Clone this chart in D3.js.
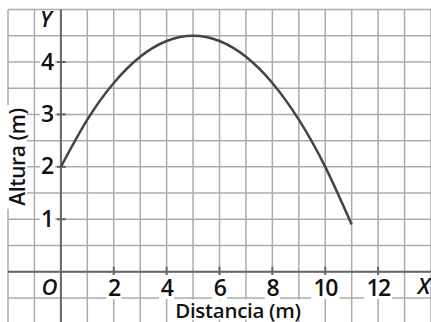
<!DOCTYPE html>
<html>
<head>
<meta charset="utf-8">
<script src="https://cdn.jsdelivr.net/npm/d3@7"></script>
<style>
  html, body { margin: 0; padding: 0; background: #fff; }
  svg { display: block; }
  text { font-family: "Open Sans", "Noto Sans", sans-serif; fill: #111; font-weight: 600; }
</style>
</head>
<body>
<svg id="chart" width="431" height="322"></svg>
<script>
// Trajectory samples: horizontal distance (m) and height (m)
const distances = [0, 1, 2, 3, 4, 5, 6, 7, 8, 9, 10, 11];
const heights   = [2.0, 2.9, 3.6, 4.1, 4.4, 4.5, 4.4, 4.1, 3.6, 2.9, 2.0, 0.9];

const xTicks = [2, 4, 6, 8, 10, 12];
const yTicks = [1, 2, 3, 4];
const xLabel = "Distancia (m)";
const yLabel = "Altura (m)";

const W = 431, H = 322;
const svg = d3.select("#chart");

const x = d3.scaleLinear().domain([-2, 14]).range([8, 431]);
const y = d3.scaleLinear().domain([0, 4]).range([271.7, 62]);

// square grid: every 1 m horizontally, every 0.5 m vertically
const gx = d3.range(-2, 14.01, 1);
const gy = d3.range(-1, 5.01, 0.5);
const grid = svg.append("g").attr("stroke", "#ababab").attr("stroke-width", 1.5);
grid.selectAll("line.v").data(gx).join("line")
  .attr("x1", d => x(d)).attr("x2", d => x(d))
  .attr("y1", y(5)).attr("y2", H);
grid.selectAll("line.h").data(gy).join("line")
  .attr("x1", x(-2)).attr("x2", W)
  .attr("y1", d => y(d)).attr("y2", d => y(d));

// axes through the origin
const axisColor = "#666";
svg.append("line").attr("x1", x(-2)).attr("x2", W)
  .attr("y1", y(0)).attr("y2", y(0))
  .attr("stroke", axisColor).attr("stroke-width", 2);
svg.append("line").attr("x1", x(0)).attr("x2", x(0))
  .attr("y1", y(5)).attr("y2", H)
  .attr("stroke", axisColor).attr("stroke-width", 2);

// tick marks
svg.append("g").selectAll("line").data(xTicks).join("line")
  .attr("x1", d => x(d)).attr("x2", d => x(d))
  .attr("y1", y(0) - 5).attr("y2", y(0) + 5)
  .attr("stroke", axisColor).attr("stroke-width", 2);
svg.append("g").selectAll("line").data(yTicks).join("line")
  .attr("x1", x(0) - 4).attr("x2", x(0) + 5)
  .attr("y1", d => y(d)).attr("y2", d => y(d))
  .attr("stroke", axisColor).attr("stroke-width", 2);

// text with a snug white backing
function label(g, str, px, py, opts = {}) {
  const grp = g.append("g");
  const rect = grp.append("rect").attr("fill", "#fff");
  const t = grp.append("text").text(str)
    .attr("x", px).attr("y", py)
    .attr("text-anchor", opts.anchor || "middle")
    .attr("dominant-baseline", "central")
    .attr("font-size", opts.size || 21);
  if (opts.italic) t.attr("font-style", "italic").attr("font-weight", 500);
  if (opts.rotate) grp.attr("transform", `rotate(${opts.rotate},${px},${py})`);
  if (opts.bg !== false) {
    const b = t.node().getBBox();
    const p = 1;
    rect.attr("x", b.x - p).attr("y", b.y + 4).attr("width", b.width + 2 * p).attr("height", b.height - 8);
  }
  return t;
}

const labels = svg.append("g");
xTicks.forEach(d => label(labels, d, x(d), 287, { size: 23 }).attr("letter-spacing", -1.5));
yTicks.forEach(d => label(labels, d, 47.5, y(d) - 1.5, { size: 23 }));
label(labels, "O", 49.5, 285.5, { size: 22, italic: true, bg: false });
label(labels, "Y", 46, 18, { size: 22, italic: true, bg: false });
label(labels, "X", 424, 284.5, { size: 22, italic: true, bg: false });
label(labels, xLabel, 238, 309.5, { size: 20.5 }).attr("letter-spacing", -0.3);
label(labels, yLabel, 17, 157, { size: 21, rotate: -90 }).attr("letter-spacing", -0.4);

// trajectory
const pts = distances.map((d, i) => [d, heights[i]]);
svg.append("path").datum(pts)
  .attr("fill", "none").attr("stroke", "#444").attr("stroke-width", 2.5)
  .attr("d", d3.line().x(d => x(d[0])).y(d => y(d[1])).curve(d3.curveNatural));
</script>
</body>
</html>
